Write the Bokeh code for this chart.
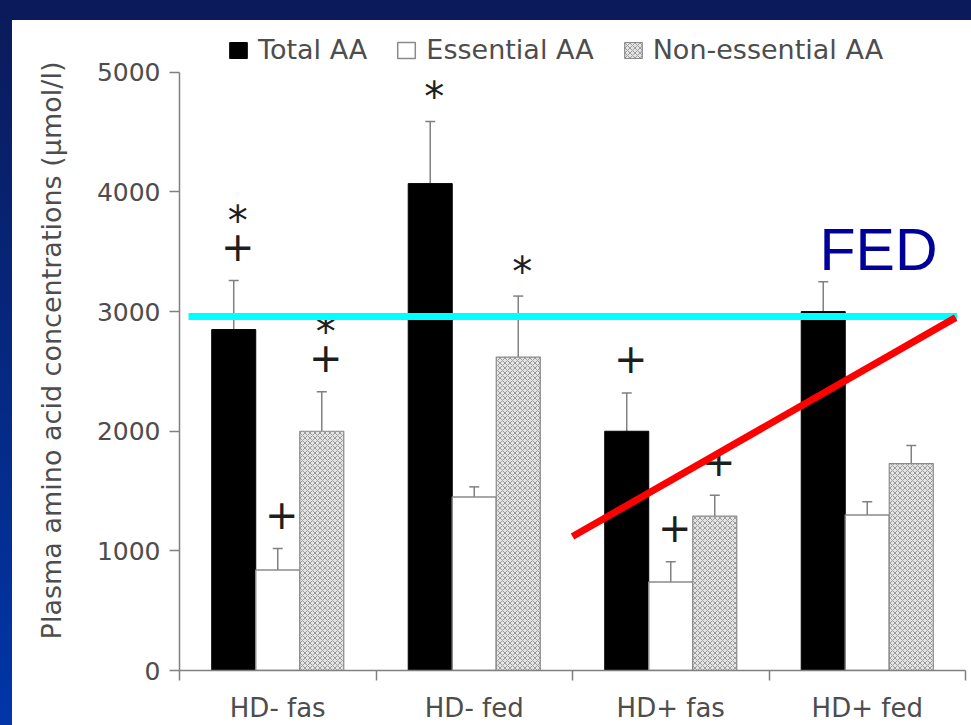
from bokeh.plotting import figure
from bokeh.layouts import column
from bokeh.models import (Range1d, FixedTicker, ColumnDataSource, Whisker, TeeHead,
                          Legend, LegendItem, Label)
from bokeh.core.properties import value
from bokeh.embed import file_html
from bokeh.resources import INLINE

# Plasma amino acid concentrations (mean + SEM), µmol/l
groups = ["HD- fas", "HD- fed", "HD+ fas", "HD+ fed"]
total_aa = [2850, 4070, 2000, 3000]
total_sem = [410, 520, 320, 250]
essential_aa = [840, 1450, 740, 1300]
essential_sem = [180, 85, 170, 110]
nonessential_aa = [2000, 2620, 1290, 1730]
nonessential_sem = [330, 510, 175, 150]

# significance marks above each bar, listed from the bar upwards
total_marks = [["+", "*"], ["*"], ["+"], []]
essential_marks = [["+"], [], ["+"], []]
nonessential_marks = [["+", "*"], ["*"], ["+"], []]

y_ticks = [0, 1000, 2000, 3000, 4000, 5000]

# reference level of the fed state and the trend drawn towards it
fed_level = 2960
trend_x = [2.0, 3.95]
trend_y = [1120, 2950]

TEXT = "#4d4d4d"
AXIS = "#808080"
FONT = "DejaVu Sans"

# the slide border takes 12 px on the left and 20 px on top;
# the plot area reaches above 5000 to leave room for the legend
W, H = 959, 705
p = figure(width=W, height=H, x_range=Range1d(0, 4), y_range=Range1d(0, 5350),
           output_backend="svg", toolbar_location=None,
           min_border_left=167, min_border_right=6, min_border_top=10, min_border_bottom=52)
p.outline_line_color = None
p.xgrid.visible = False
p.ygrid.visible = False
p.background_fill_color = "white"
p.border_fill_color = "white"
p.styles = {"background-color": "white"}

bar_w = 0.224
centers = [i + 0.5 for i in range(len(groups))]

series = [
    ("Total AA", total_aa, total_sem, total_marks, -bar_w,
     dict(fill_color="black", line_color="black")),
    ("Essential AA", essential_aa, essential_sem, essential_marks, 0.0,
     dict(fill_color="white", line_color="#8a8a8a", line_width=1.5)),
    ("Non-essential AA", nonessential_aa, nonessential_sem, nonessential_marks, bar_w,
     dict(fill_color="#e4e4e4", line_color="#8a8a8a", line_width=1.2,
          hatch_pattern="x", hatch_color="#9c9c9c", hatch_scale=5, hatch_weight=1)),
]

items = []
mark_x, mark_y, mark_t = [], [], []
for name, vals, sems, marks, off, style in series:
    xs = [c + off for c in centers]
    src = ColumnDataSource(dict(x=xs, top=vals, upper=[v + s for v, s in zip(vals, sems)]))
    r = p.vbar(x="x", top="top", bottom=0, width=bar_w, source=src, **style)
    items.append(LegendItem(label=name, renderers=[r]))
    p.add_layout(Whisker(base="x", lower="top", upper="upper", source=src,
                         dimension="height", line_color=AXIS, line_width=1.5,
                         upper_head=TeeHead(size=10, line_color=AXIS, line_width=1.5),
                         lower_head=None))
    for x, v, s, ms in zip(xs, vals, sems, marks):
        for j, m in enumerate(ms):
            # the asterisk sits high in its glyph box, so it is lowered a little
            lift = 290 + 300 * j - (90 if m == "*" else 0)
            mark_x.append(x)
            mark_y.append(v + s + lift)
            mark_t.append(m)

p.text(x=mark_x, y=mark_y, text=mark_t, x_offset=4,
       text_font=value(FONT), text_font_size="40px", text_color="#1e1e1e",
       text_align="center", text_baseline="middle")

# fed-state reference line and trend line
p.line(x=[0.046, 3.957], y=[fed_level, fed_level], line_color="#00ffff", line_width=7)
p.line(x=trend_x, y=trend_y, line_color="#ff0000", line_width=7)
p.add_layout(Label(x=3.257, y=fed_level, y_offset=66, text="FED",
                   text_font="Liberation Sans", text_font_size="59px",
                   text_color="#000099", text_baseline="alphabetic"))

# axes
yax = p.yaxis[0]
yax.ticker = FixedTicker(ticks=y_ticks, minor_ticks=[])
yax.bounds = (0, 5000)
yax.axis_line_color = AXIS
yax.axis_line_width = 1.5
yax.major_tick_line_color = AXIS
yax.major_tick_line_width = 1.5
yax.major_tick_in = 0
yax.major_tick_out = 10
yax.major_label_standoff = 9
yax.major_label_text_font = FONT
yax.major_label_text_font_size = "25px"
yax.major_label_text_color = TEXT
yax.axis_label = "Plasma amino acid concentrations (µmol/l)"
yax.axis_label_text_font = FONT
yax.axis_label_text_font_size = "27px"
yax.axis_label_text_font_style = "normal"
yax.axis_label_text_color = TEXT
yax.axis_label_standoff = 27

xax = p.xaxis[0]
xax.ticker = FixedTicker(ticks=centers, minor_ticks=[0, 1, 2, 3, 4])
xax.major_label_overrides = {c: g for c, g in zip(centers, groups)}
xax.axis_line_color = AXIS
xax.axis_line_width = 1.5
xax.major_tick_in = 0
xax.major_tick_out = 0
xax.minor_tick_in = 0
xax.minor_tick_out = 10
xax.minor_tick_line_color = AXIS
xax.minor_tick_line_width = 1.5
xax.major_label_standoff = 12
xax.major_label_text_font = FONT
xax.major_label_text_font_size = "26px"
xax.major_label_text_color = TEXT

legend = Legend(items=items, orientation="horizontal", location=(48, 605),
                label_text_font=FONT, label_text_font_size="27px",
                label_text_color=TEXT, glyph_width=22, glyph_height=20,
                label_standoff=9, spacing=28, padding=5, margin=0,
                border_line_color=None, background_fill_alpha=0)
p.add_layout(legend)

page = column(p, styles={
    "padding": "20px 0 0 12px",
    "background": "linear-gradient(to bottom, #0b1a5a 0px, #0b1a5a 20px, transparent 20px),"
                  " linear-gradient(to bottom, #0b1a5a, #0036a8)",
})

open("out.html", "w").write(file_html(page, INLINE))
